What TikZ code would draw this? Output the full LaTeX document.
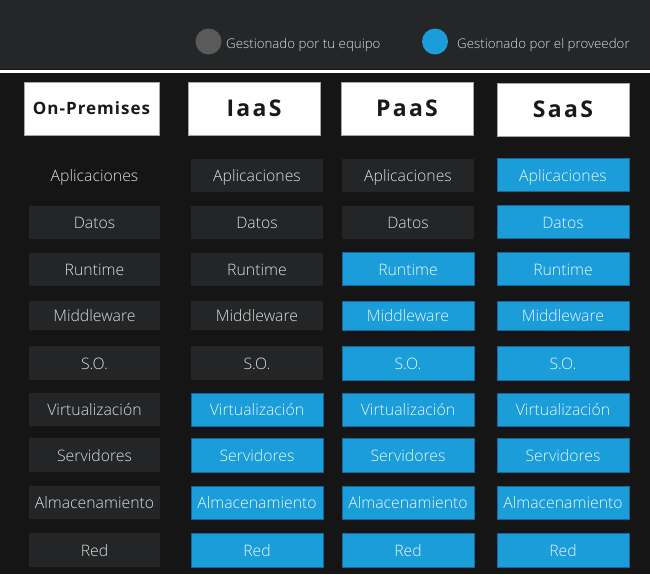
\documentclass[tikz,border=0pt]{standalone}
\usepackage{fontspec}
\setmainfont{Open Sans}
\newfontfamily\lightfont{Open Sans Light}
\definecolor{topband}{HTML}{242627}
\definecolor{bgdark}{HTML}{151515}
\definecolor{boxdark}{HTML}{232526}
\definecolor{boxblue}{HTML}{1B9DD9}
\definecolor{blueedge}{HTML}{17689A}
\definecolor{legendgray}{HTML}{5A5A5A}
\definecolor{txtlight}{HTML}{DEDEDE}
\definecolor{txtblue}{HTML}{EAF6FD}
\begin{document}
\begin{tikzpicture}[x=1pt,y=-1pt,
  cell/.style={minimum width=132pt,minimum height=33pt,inner sep=0pt,text height=12.5pt,text depth=0pt,font=\lightfont\fontsize{15.8}{18}\selectfont},
  own/.style={cell,fill=boxdark,text=txtlight},
  bare/.style={cell,text=txtlight},
  prov/.style={cell,fill=boxblue,draw=blueedge,line width=0.8pt,text=txtblue},
  head/.style={fill=white,draw=gray!70,line width=0.6pt,minimum width=132pt,minimum height=53pt,inner sep=0pt,text=black!90},
  dot/.style={circle,minimum size=26pt,inner sep=0pt},
  legendtxt/.style={anchor=west,inner sep=0pt,text height=10pt,text depth=0pt,text=txtlight,font=\lightfont\fontsize{13.3}{15}\selectfont}]
\useasboundingbox (0,0) rectangle (650,574);
\fill[bgdark] (0,0) rectangle (650,574);
\fill[topband] (0,0) rectangle (650,69);
\fill[white] (0,69.5) rectangle (650,72.5);
% legend
\node[dot,fill=legendgray] (lg1) at (208.5,41.5) {};
\node[legendtxt] (lt1) at (226,43) {Gestionado por tu equipo};
\node[dot,fill=boxblue] (lg2) at (435,41.5) {};
\node[legendtxt] (lt2) at (457,43) {Gestionado por el proveedor};
% headers
\node[head,minimum width=135pt,font=\bfseries\fontsize{17}{20}\selectfont\addfontfeatures{LetterSpace=6}] (h1) at (91.5,108.5) {On-Premises};
\node[head,font=\bfseries\fontsize{23}{26}\selectfont\addfontfeatures{LetterSpace=10}] (h2) at (254,108.5) {IaaS};
\node[head,font=\bfseries\fontsize{23}{26}\selectfont\addfontfeatures{LetterSpace=10}] (h3) at (407,108.5) {PaaS};
\node[head,font=\bfseries\fontsize{23}{26}\selectfont\addfontfeatures{LetterSpace=10}] (h4) at (563,109.5) {SaaS};
% On-Premises column
\node[bare,minimum width=131pt] (o1) at (94.5,175) {Aplicaciones};
\node[own,minimum width=131pt] (o2) at (94.5,222) {Datos};
\node[own,minimum width=131pt] (o3) at (94.5,269) {Runtime};
\node[own,minimum width=131pt,minimum height=29pt] (o4) at (94.5,315.5) {Middleware};
\node[own,minimum width=131pt,minimum height=34pt] (o5) at (94.5,363) {S.O.};
\node[own,minimum width=131pt] (o6) at (94.5,409.5) {Virtualización};
\node[own,minimum width=131pt,minimum height=34pt] (o7) at (94.5,455) {Servidores};
\node[own,minimum width=131pt] (o8) at (94.5,502.5) {Almacenamiento};
\node[own,minimum width=131pt,minimum height=34pt] (o9) at (94.5,550) {Red};
% IaaS column
\node[own] (i1) at (257,175) {Aplicaciones};
\node[own] (i2) at (257,222) {Datos};
\node[own] (i3) at (257,269) {Runtime};
\node[own,minimum height=29pt] (i4) at (257,315.5) {Middleware};
\node[own,minimum height=34pt] (i5) at (257,363) {S.O.};
\node[prov] (i6) at (257,409.5) {Virtualización};
\node[prov,minimum height=34pt] (i7) at (257,455) {Servidores};
\node[prov] (i8) at (257,502.5) {Almacenamiento};
\node[prov,minimum height=34pt] (i9) at (257,550) {Red};
% PaaS column
\node[own] (p1) at (408,175) {Aplicaciones};
\node[own] (p2) at (408,222) {Datos};
\node[prov] (p3) at (408,269) {Runtime};
\node[prov,minimum height=29pt] (p4) at (408,315.5) {Middleware};
\node[prov,minimum height=34pt] (p5) at (408,363) {S.O.};
\node[prov] (p6) at (408,409.5) {Virtualización};
\node[prov,minimum height=34pt] (p7) at (408,455) {Servidores};
\node[prov] (p8) at (408,502.5) {Almacenamiento};
\node[prov,minimum height=34pt] (p9) at (408,550) {Red};
% SaaS column
\node[prov] (s1) at (563,175) {Aplicaciones};
\node[prov] (s2) at (563,222) {Datos};
\node[prov] (s3) at (563,269) {Runtime};
\node[prov,minimum height=29pt] (s4) at (563,315.5) {Middleware};
\node[prov,minimum height=34pt] (s5) at (563,363) {S.O.};
\node[prov] (s6) at (563,409.5) {Virtualización};
\node[prov,minimum height=34pt] (s7) at (563,455) {Servidores};
\node[prov] (s8) at (563,502.5) {Almacenamiento};
\node[prov,minimum height=34pt] (s9) at (563,550) {Red};
\end{tikzpicture}
\end{document}
